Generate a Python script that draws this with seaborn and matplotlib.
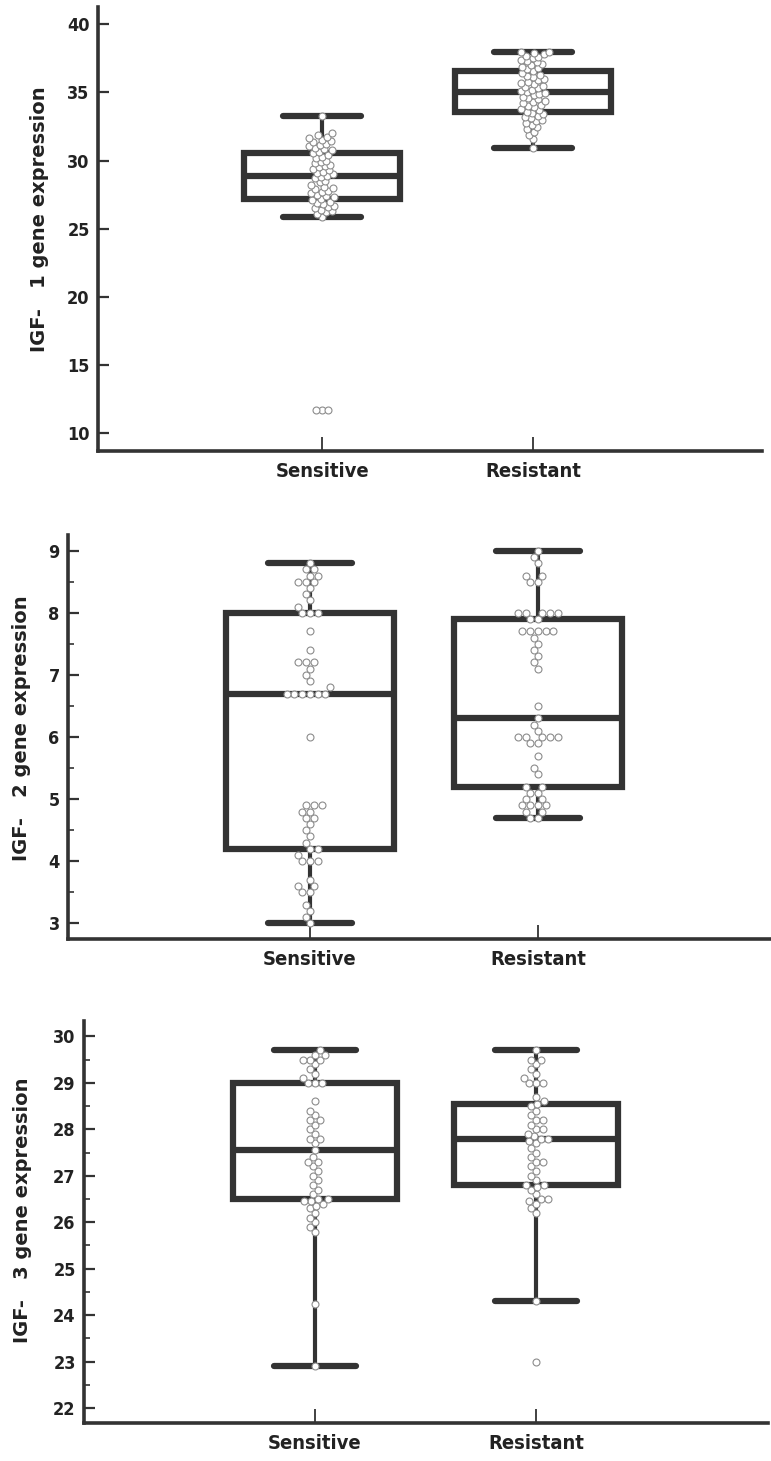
import matplotlib
matplotlib.use("Agg")
import matplotlib.pyplot as plt
import seaborn as sns
import pandas as pd
from matplotlib import font_manager
from matplotlib.font_manager import FontProperties
from matplotlib.ticker import MultipleLocator

# %% data (one list per box)
groups = ["Sensitive", "Resistant"]

igf1_sensitive = [11.7, 11.7, 11.7,
                  25.9, 26.1, 26.2, 26.3, 26.4, 26.5, 26.6, 26.7, 26.8, 26.9, 27.0, 27.1,
                  27.2,
                  27.3, 27.4, 27.5, 27.6, 27.7, 27.8, 27.9, 28.0, 28.1, 28.2, 28.4, 28.5, 28.7, 28.8,
                  28.9,
                  29.0, 29.1, 29.2, 29.3, 29.4, 29.5, 29.6, 29.7, 29.8, 29.9, 30.0, 30.2, 30.3, 30.45,
                  30.55,
                  30.65, 30.75, 30.85, 30.95, 31.05, 31.15, 31.25, 31.35, 31.45, 31.55, 31.65, 31.75,
                  31.85, 32.0, 33.3]
igf1_resistant = [30.9,
                  31.6, 31.9, 32.1, 32.3, 32.45, 32.6, 32.75, 32.9, 33.0, 33.1, 33.2, 33.3, 33.4, 33.5,
                  33.6,
                  33.7, 33.8, 33.9, 34.0, 34.1, 34.2, 34.3, 34.4, 34.5, 34.6, 34.7, 34.8, 34.9, 34.95,
                  35.0,
                  35.1, 35.2, 35.3, 35.4, 35.5, 35.6, 35.7, 35.8, 35.9, 36.0, 36.1, 36.2, 36.3, 36.45,
                  36.6,
                  36.7, 36.8, 36.9, 37.0, 37.1, 37.2, 37.3, 37.4, 37.5, 37.6, 37.7, 37.8, 37.9, 37.95, 38.0]

igf2_sensitive = [3.0, 3.1, 3.2, 3.3, 3.5, 3.5, 3.6, 3.6, 3.7, 4.0, 4.0, 4.0, 4.1, 4.2, 4.2,
                  4.3, 4.4, 4.5, 4.6, 4.7, 4.7, 4.8, 4.8, 4.9, 4.9, 4.9, 6.0,
                  6.7, 6.7, 6.7, 6.7, 6.7, 6.7,
                  6.8, 6.9, 7.0, 7.1, 7.2, 7.2, 7.2, 7.4, 7.7, 8.0, 8.0, 8.0,
                  8.1, 8.2, 8.3, 8.4, 8.5, 8.5, 8.5, 8.6, 8.6, 8.7, 8.7, 8.8]
igf2_resistant = [4.7, 4.7, 4.8, 4.8, 4.9, 4.9, 4.9, 4.9, 5.0, 5.0, 5.1, 5.1, 5.2, 5.2,
                  5.4, 5.5, 5.7, 5.9, 5.9, 6.0, 6.0, 6.0, 6.0, 6.0, 6.1, 6.2, 6.3,
                  6.5, 7.1, 7.2, 7.3, 7.4, 7.5, 7.6, 7.7, 7.7, 7.7, 7.7, 7.7, 7.9, 7.9,
                  8.0, 8.0, 8.0, 8.0, 8.0, 8.5, 8.5, 8.6, 8.6, 8.8, 8.9, 9.0]

igf3_sensitive = [22.9, 24.25, 25.8, 25.9, 26.0, 26.1, 26.2, 26.3, 26.35, 26.4, 26.45, 26.45,
                  26.5,
                  26.5, 26.6, 26.7, 26.8, 26.9, 27.0, 27.1, 27.2, 27.3, 27.3, 27.4,
                  27.55,
                  27.7, 27.8, 27.8, 27.9, 28.0, 28.1, 28.2, 28.2, 28.3, 28.4, 28.6,
                  29.0,
                  29.0, 29.0, 29.1, 29.2, 29.3, 29.4, 29.5, 29.5, 29.5, 29.6, 29.6, 29.7]
igf3_resistant = [23.0, 24.3,
                  26.2, 26.3, 26.4, 26.45, 26.5, 26.5, 26.6, 26.7, 26.75, 26.8,
                  26.8,
                  26.9, 27.0, 27.1, 27.2, 27.3, 27.3, 27.4, 27.5, 27.6, 27.7, 27.75,
                  27.8,
                  27.8, 27.85, 27.9, 28.0, 28.0, 28.1, 28.2, 28.2, 28.3, 28.4, 28.5,
                  28.55,
                  28.6, 28.7, 29.0, 29.0, 29.0, 29.1, 29.2, 29.3, 29.4, 29.5, 29.5, 29.7]

ylabels = ["IGF-   1 gene expression", "IGF-   2 gene expression", "IGF-   3 gene expression"]
yticks_1 = [10, 15, 20, 25, 30, 35, 40]
yticks_2 = [3, 4, 5, 6, 7, 8, 9]
yticks_3 = [22, 23, 24, 25, 26, 27, 28, 29, 30]

# %% style
sns.set_style("ticks")
plt.rcParams["font.family"] = ["Liberation Sans", "DejaVu Sans"]
DARK = "#333333"
POINT_SIZE = 5.0   # drawn marker diameter (pt)


def narrow_bold_font():
    # the tick labels in the figure are a tall, narrow bold face; use any condensed bold file
    best = None
    for f in font_manager.fontManager.ttflist:
        w = f.weight if isinstance(f.weight, int) else {"bold": 700, "heavy": 800, "black": 900}.get(f.weight, 400)
        narrow = ("Narrow" in f.name or "Condensed" in f.name
                  or "condensed" in str(f.stretch) or "Condensed" in f.fname)
        if narrow and 600 <= w <= 800 and "italic" not in f.style.lower() and "oblique" not in f.style.lower():
            rank = 0 if "Liberation" in f.name else (1 if "DejaVu" in f.name else 2)
            if best is None or rank < best[0]:
                best = (rank, f.fname)
    return best[1] if best else None


NARROW = narrow_bold_font()

W, H = 771, 1461
fig = plt.figure(figsize=(W / 100, H / 100), dpi=100)


def px_rect(left, top, right, bottom):
    return [left / W, 1 - bottom / H, (right - left) / W, (bottom - top) / H]


# "swarm" = marker size used to lay out the swarm; the original packs overlapping circles
panels = [
    dict(sens=igf1_sensitive, res=igf1_resistant, label=ylabels[0], ticks=yticks_1, minor=None,
         rect=px_rect(98, 7, 762, 451), ylim=(8.70, 41.27), xlim=(-1.062, 2.085),
         lab=(-0.074, 0.522), swarm=3.3),
    dict(sens=igf2_sensitive, res=igf2_resistant, label=ylabels[1], ticks=yticks_2, minor=0.5,
         rect=px_rect(68, 535, 771, 939), ylim=(2.747, 9.253), xlim=(-1.061, 2.022),
         lab=(-0.053, 0.522), swarm=4.5),
    dict(sens=igf3_sensitive, res=igf3_resistant, label=ylabels[2], ticks=yticks_3, minor=0.5,
         rect=px_rect(84, 1021, 768, 1423), ylim=(21.68, 30.33), xlim=(-1.045, 2.05),
         lab=(-0.076, 0.528), swarm=4.0),
]

swarm_colls = []
for p in panels:
    ax = fig.add_axes(p["rect"])
    df = pd.DataFrame({
        "group": ["Sensitive"] * len(p["sens"]) + ["Resistant"] * len(p["res"]),
        "value": p["sens"] + p["res"],
    })
    sns.boxplot(data=df, x="group", y="value", order=groups, ax=ax, width=0.74,
                color="white", linecolor=DARK, linewidth=4.5, saturation=1,
                showfliers=False, whiskerprops={"linewidth": 3.0})
    sns.swarmplot(data=df, x="group", y="value", order=groups, ax=ax, color="white",
                  edgecolor="0.55", linewidth=0.8, size=p["swarm"], zorder=3)
    swarm_colls += [c for c in ax.collections if "draw" in c.__dict__]

    ax.set_xlim(*p["xlim"])
    ax.set_ylim(*p["ylim"])
    ax.set_yticks(p["ticks"])
    if p["minor"]:
        ax.yaxis.set_minor_locator(MultipleLocator(p["minor"]))
    ax.set_xlabel("")
    ax.set_ylabel(p["label"], fontsize=14, fontweight="bold", family="DejaVu Sans", color="#222222")
    ax.yaxis.set_label_coords(*p["lab"])

    sns.despine(ax=ax)
    for side in ["left", "bottom"]:
        ax.spines[side].set_linewidth(2.6)
        ax.spines[side].set_color(DARK)

    ax.tick_params(axis="y", which="major", direction="in", length=8, width=1.6, color=DARK,
                   pad=6, labelcolor="#222222")
    ax.tick_params(axis="y", which="minor", direction="in", length=4, width=1.2, color=DARK)
    ax.tick_params(axis="x", direction="in", length=10, width=1.3, color=DARK,
                   pad=8, labelcolor="#222222")
    for lbl in ax.get_yticklabels():
        if NARROW:
            lbl.set_fontproperties(FontProperties(fname=NARROW, size=13))
        else:
            lbl.set_fontproperties(FontProperties(family="Liberation Sans", weight="bold", size=11.5))
    for lbl in ax.get_xticklabels():
        if NARROW:
            lbl.set_fontproperties(FontProperties(fname=NARROW, size=14.5))
        else:
            lbl.set_fontproperties(FontProperties(family="Liberation Sans", weight="bold", size=12.5))

# lay the swarms out once, then freeze the positions and draw the circles at full size
fig.canvas.draw()
for coll in swarm_colls:
    del coll.draw
    coll.set_sizes([POINT_SIZE ** 2])

fig.savefig("out.png", dpi=100)
